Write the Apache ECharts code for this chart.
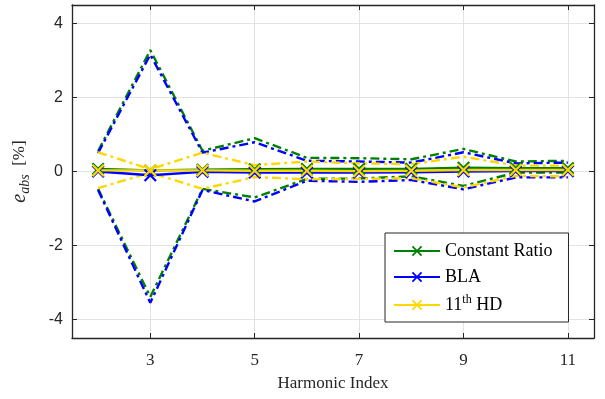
<!DOCTYPE html>
<html>
<head>
<meta charset="utf-8">
<script src="https://cdn.jsdelivr.net/npm/echarts@6/dist/echarts.min.js"></script>
<style>
  html, body { margin: 0; padding: 0; background: #fff; }
  #chart { width: 605px; height: 399px; }
</style>
</head>
<body>
<div id="chart"></div>
<script>
// harmonic index on x
const harmonics = [2, 3, 4, 5, 6, 7, 8, 9, 10, 11]
const xTicks = [3, 5, 7, 9, 11]
const yTicks = [-4, -2, 0, 2, 4]

// Constant Ratio
const crMean  = [0.07, 0.03, 0.05, 0.06, 0.07, 0.07, 0.07, 0.10, 0.09, 0.09]
const crUpper = [0.55, 3.28, 0.56, 0.90, 0.37, 0.36, 0.33, 0.61, 0.27, 0.29]
const crLower = [-0.47, -3.39, -0.47, -0.70, -0.20, -0.19, -0.13, -0.39, -0.03, -0.03]
// BLA
const blaMean  = [0.00, -0.10, -0.01, -0.03, -0.03, -0.03, -0.02, 0.00, 0.01, 0.01]
const blaUpper = [0.50, 3.16, 0.51, 0.79, 0.29, 0.27, 0.24, 0.52, 0.22, 0.24]
const blaLower = [-0.50, -3.55, -0.50, -0.81, -0.25, -0.28, -0.23, -0.48, -0.16, -0.16]
// 11th HD
const hdMean  = [0.03, 0.03, 0.03, 0.02, 0.02, 0.01, 0.02, 0.04, 0.04, 0.04]
const hdUpper = [0.52, 0.06, 0.51, 0.17, 0.27, 0.22, 0.20, 0.40, 0.16, 0.16]
const hdLower = [-0.45, -0.03, -0.47, -0.15, -0.21, -0.20, -0.18, -0.43, -0.12, -0.13]

const GREEN = '#008000', BLUE = '#0000ff', YELLOW = '#ffd700'
const AX = '#262626'
const SERIF = '"Liberation Serif", "DejaVu Serif", serif'
const SANS = '"Liberation Sans", Arial, sans-serif'
const XMARK = 'path://M0,1.2L1.2,0L5,3.8L8.8,0L10,1.2L6.2,5L10,8.8L8.8,10L5,6.2L1.2,10L0,8.8L3.8,5Z'

const pts = ys => harmonics.map((x, i) => [x, ys[i]])

function bound(ys, color) {
  return {
    type: 'line', data: pts(ys), symbol: 'none', silent: true,
    lineStyle: { color, width: 2.4, type: [9, 4, 3, 4] }, z: 3
  }
}
function mean(name, ys, color) {
  return {
    type: 'line', name, data: pts(ys),
    symbol: XMARK, symbolSize: 13, showSymbol: true,
    lineStyle: { color, width: 2.4 },
    itemStyle: { color, borderWidth: 0 }, z: 4
  }
}

const frameX = (pos, labels) => ({
  type: 'value', min: 1.5, max: 11.5, position: pos,
  axisLine: { show: true, onZero: false, lineStyle: { color: AX, width: 1.3 } },
  axisTick: { show: true, inside: true, length: 5, customValues: xTicks, lineStyle: { color: AX } },
  axisLabel: { show: labels, customValues: xTicks, color: AX, fontFamily: SERIF, fontSize: 17, margin: 14 },
  splitLine: { show: labels, lineStyle: { color: '#e3e3e3', width: 1 } }
})
const frameY = (pos, labels) => ({
  type: 'value', min: -4.5, max: 4.5, position: pos,
  axisLine: { show: true, onZero: false, lineStyle: { color: AX, width: 1.3 } },
  axisTick: { show: true, inside: true, length: 5, customValues: yTicks, lineStyle: { color: AX } },
  axisLabel: { show: labels, customValues: yTicks, color: AX, fontFamily: SANS, fontSize: 16, margin: 9 },
  splitLine: { show: labels, lineStyle: { color: '#e3e3e3', width: 1 } }
})

const chart = echarts.init(document.getElementById('chart'), null, { renderer: 'canvas' })
const xMain = frameX('bottom', true)
xMain.name = 'Harmonic Index'
xMain.nameLocation = 'middle'
xMain.nameGap = 37
xMain.nameTextStyle = { color: AX, fontFamily: SERIF, fontSize: 17 }
const yMain = frameY('left', true)
yMain.name = '{i|e}{sub|abs}  [%]'
yMain.nameLocation = 'middle'
yMain.nameGap = 40
yMain.nameTextStyle = {
  color: AX, fontFamily: SERIF, fontSize: 17,
  rich: {
    i: { fontFamily: SERIF, fontStyle: 'italic', fontSize: 20, color: AX },
    sub: { fontFamily: SERIF, fontStyle: 'italic', fontSize: 14, color: AX, verticalAlign: 'bottom', padding: [10, 0, 0, 0] }
  }
}

chart.setOption({
  animation: false,
  backgroundColor: '#fff',
  grid: { left: 72, right: 11, top: 5, bottom: 61 },
  xAxis: [xMain, frameX('top', false)],
  yAxis: [yMain, frameY('right', false)],
  legend: {
    data: ['Constant Ratio', 'BLA', '11th HD'],
    orient: 'vertical', left: 385, top: 233,
    backgroundColor: '#fff', borderColor: AX, borderWidth: 1,
    padding: [9, 16, 8, 8], itemGap: 8, itemWidth: 46, itemHeight: 13,
    formatter: n => n === '11th HD' ? '11{sup|th} HD' : n,
    textStyle: {
      color: '#000', fontFamily: SERIF, fontSize: 18,
      rich: { sup: { fontFamily: SERIF, fontSize: 12, color: '#000', verticalAlign: 'top', padding: [0, 0, 10, 0] } }
    }
  },
  series: [
    bound(crUpper, GREEN), bound(crLower, GREEN),
    bound(blaUpper, BLUE), bound(blaLower, BLUE),
    bound(hdUpper, YELLOW), bound(hdLower, YELLOW),
    mean('Constant Ratio', crMean, GREEN),
    mean('BLA', blaMean, BLUE),
    mean('11th HD', hdMean, YELLOW)
  ]
})
</script>
</body>
</html>
